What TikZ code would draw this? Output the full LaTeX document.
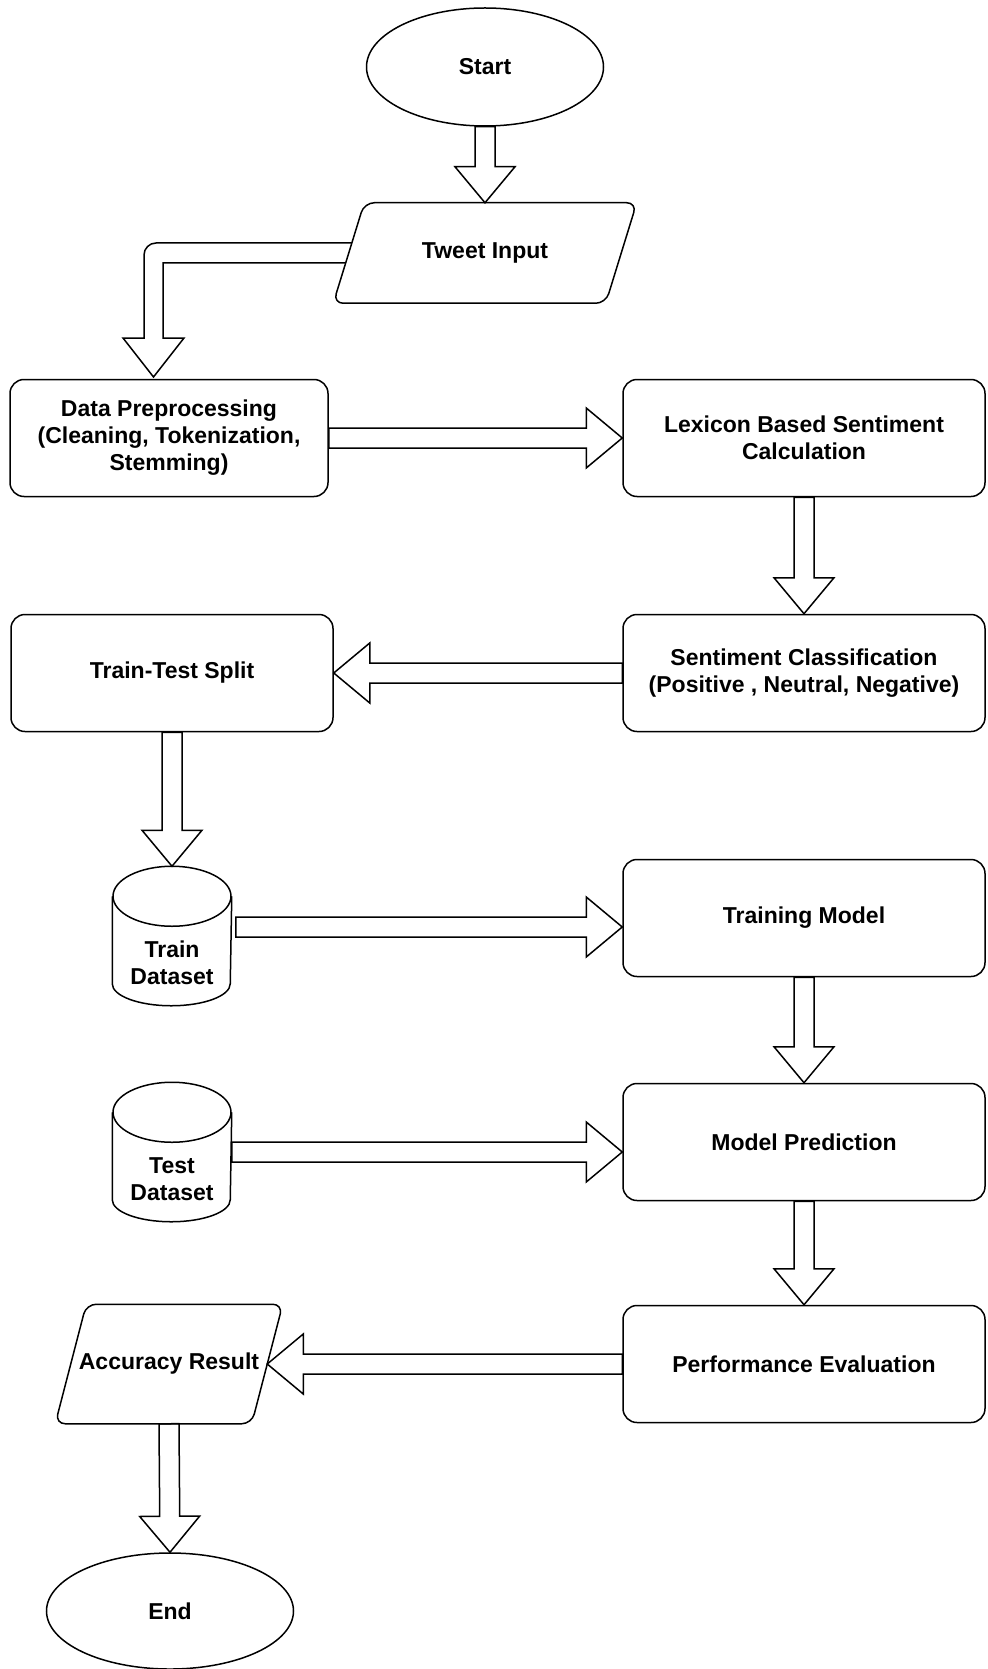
\documentclass[tikz,border=0pt]{standalone}
\usepackage{fontspec}
\setmainfont{Liberation Sans}
\usetikzlibrary{shapes,calc}

\newcommand{\fatarr}[2]{%
  \coordinate (neck) at ($(#2)!36pt!(#1)$);
  \draw[fat] ($(#1)!10pt!90:(#2)$) -- ($(neck)!10pt!90:(#2)$) -- ($(neck)!30pt!90:(#2)$) -- (#2)
    -- ($(neck)!30pt!-90:(#2)$) -- ($(neck)!10pt!-90:(#2)$) -- ($(#1)!10pt!-90:(#2)$) -- cycle;}
\newcommand{\slanted}[1]{%
  \draw[fat, rounded corners=10pt] ([xshift=31pt]#1.north west) -- (#1.north east) -- ([xshift=-31pt]#1.south east)
    -- (#1.south west) -- cycle;}
\newcommand{\can}[1]{%
  \draw[fat] ([yshift=24pt]#1.north) ellipse (59pt and 30pt);
  \draw[fat] ([yshift=24pt]#1.north west) -- ([yshift=22pt]#1.south west)
    arc[start angle=180, end angle=360, x radius=59pt, y radius=22pt] -- ([yshift=24pt]#1.north east);}

\begin{document}
\begin{tikzpicture}[x=1pt,y=1pt]
\tikzstyle{every node}=[font=\fontsize{23}{27}\selectfont\bfseries, line width=1.5pt, align=center]
\tikzstyle{term}=[ellipse, draw, minimum width=237pt, minimum height=118pt]
\tikzstyle{io}=[rectangle, inner sep=0pt]
\tikzstyle{proc}=[rectangle, draw, rounded corners=14pt, minimum height=117pt]
\tikzstyle{db}=[rectangle, inner sep=0pt, minimum width=118pt, minimum height=84pt]
\tikzstyle{fat}=[line width=1.5pt, line join=miter]
\useasboundingbox (0,0) rectangle (987,-1669);

\node[term] (start) at (485,-67) {Start};
\node[io, minimum width=302pt, minimum height=99pt] (tweet) at (485,-253) {Tweet Input};
\node[proc, minimum width=318pt] (prep) at (169,-438) {Data Preprocessing\\(Cleaning, Tokenization,\\Stemming)};
\node[proc, minimum width=362pt] (lex) at (804,-438) {Lexicon Based Sentiment\\Calculation};
\node[proc, minimum width=362pt] (senti) at (804,-673) {Sentiment Classification\\(Positive , Neutral, Negative)};
\node[proc, minimum width=322pt] (split) at (172,-673) {Train-Test Split};
\node[db] (train) at (172,-963) {Train\\Dataset};
\node[proc, minimum width=362pt] (fit) at (804,-918) {Training Model};
\node[db] (test) at (172,-1179) {Test\\Dataset};
\node[proc, minimum width=362pt] (pred) at (804,-1142) {Model Prediction};
\node[proc, minimum width=362pt] (perf) at (804,-1364) {Performance Evaluation};
\node[io, minimum width=226pt, minimum height=118pt] (acc) at (169,-1364) {Accuracy Result};
\node[term, minimum width=247pt, minimum height=116pt] (end) at (170,-1611) {End};
\slanted{tweet}
\slanted{acc}
\can{train}
\can{test}

\coordinate (bend) at (153.5,-253);
\coordinate (drop) at (153.5,-377);
\coordinate (tweetin) at ([xshift=15.5pt]tweet.west);
\coordinate (accin) at ([xshift=-15.5pt]acc.east);
\coordinate (traintop) at ([yshift=54pt]train.north);
\coordinate (trainout) at ([xshift=4pt,yshift=36pt]train.east);
\coordinate (fitin) at (fit.west |- trainout);
\coordinate (testout) at ([yshift=27pt]test.east);
\coordinate (predin) at (pred.west |- testout);

\fatarr{start.south}{tweet.north}
\draw[fat] ($(tweetin)+(3,10)$) [rounded corners=12pt] -- ($(bend)+(-9.5,10)$) [sharp corners] -- ($(drop)+(-9.5,39)$)
  -- ($(drop)+(-30.5,39)$) -- (drop) -- ($(drop)+(30.5,39)$) -- ($(drop)+(9.5,39)$) -- ($(bend)+(9.5,-10)$)
  -- ($(tweetin)+(-3,-10)$);
\fatarr{prep.east}{lex.west}
\fatarr{lex.south}{senti.north}
\fatarr{senti.west}{split.east}
\fatarr{split.south}{traintop}
\fatarr{trainout}{fitin}
\fatarr{fit.south}{pred.north}
\fatarr{testout}{predin}
\fatarr{pred.south}{perf.north}
\fatarr{perf.west}{accin}
\fatarr{acc.south}{end.north}
\end{tikzpicture}
\end{document}
